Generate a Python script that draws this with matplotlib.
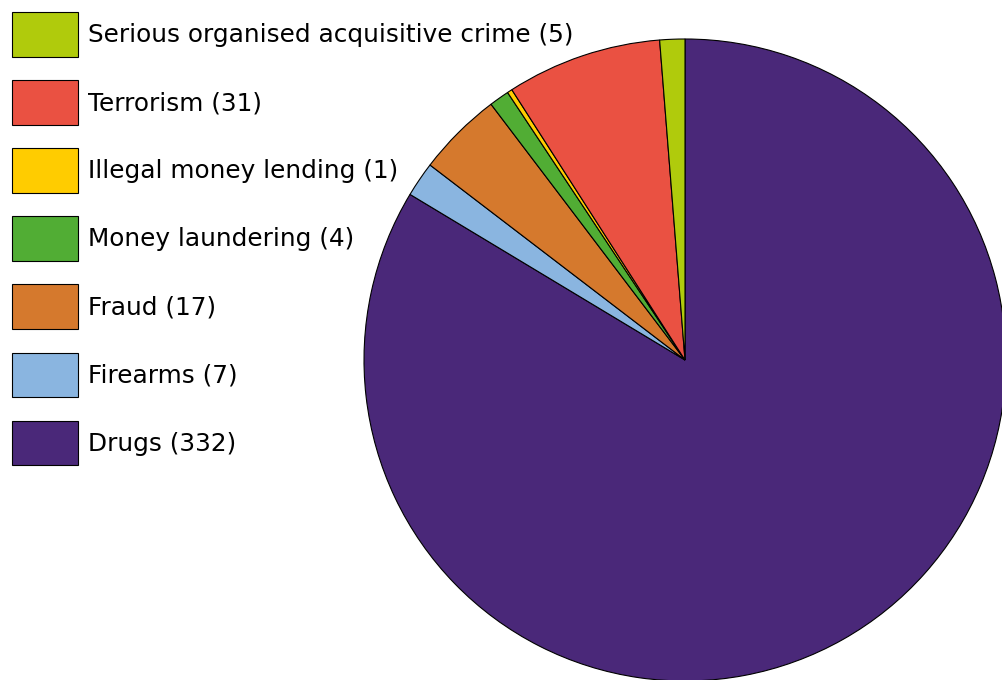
import matplotlib
matplotlib.use("Agg")
import matplotlib.pyplot as plt

# crime types, in clockwise order from 12 o'clock
labels = ["Drugs", "Firearms", "Fraud", "Money laundering",
          "Illegal money lending", "Terrorism", "Serious organised acquisitive crime"]
counts = [332, 7, 17, 4, 1, 31, 5]
colours = ["#4a2879", "#8ab5e0", "#d5792d", "#51ad34",
           "#ffcc00", "#ea5142", "#b0cb0c"]

plt.rcParams['font.family'] = ['DejaVu Sans']

fig = plt.figure(figsize=(10.03, 6.8), dpi=100)
W, H = 1003, 680
cx, cy, r = 685, 360, 321
ax = fig.add_axes([(cx - r) / W, (H - cy - r) / H, 2 * r / W, 2 * r / H])

wedges, _ = ax.pie(counts, colors=colours, startangle=90, counterclock=False,
                   wedgeprops=dict(edgecolor="black", linewidth=0.8))
ax.set_xlim(-1, 1)
ax.set_ylim(-1, 1)
ax.set_aspect("equal")
ax.axis("off")

leg_labels = ["%s (%d)" % (l, c) for l, c in zip(labels, counts)]
fs = 17.8
px = fs * 100 / 72
fig.legend(wedges[::-1], leg_labels[::-1], loc="upper left",
           bbox_to_anchor=(12 / W, 1 - 12 / H), frameon=False, fontsize=fs,
           handlelength=66 / px, handleheight=1.9 * 45 / 34 * 23.6 / px,
           labelspacing=0.95, handletextpad=10 / px, borderpad=0, borderaxespad=0)

fig.savefig("out.png", dpi=100)
